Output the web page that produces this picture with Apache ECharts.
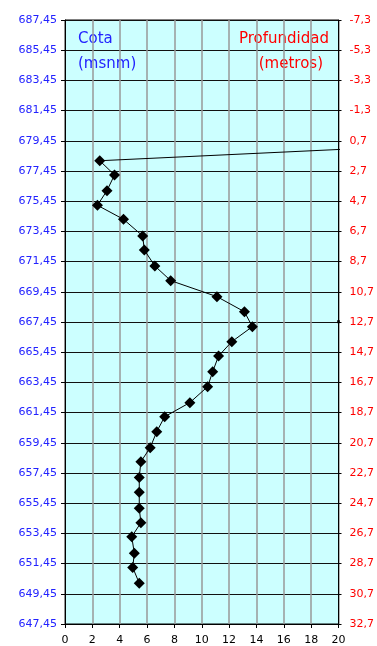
<!DOCTYPE html>
<html>
<head>
<meta charset="utf-8">
<script src="https://cdn.jsdelivr.net/npm/echarts@6/dist/echarts.min.js"></script>
<style>html,body{margin:0;padding:0;background:#fff;}#c{width:377px;height:646px;}</style>
</head>
<body>
<div id="c"></div>
<script>
// Data
var xTicks = [0, 2, 4, 6, 8, 10, 12, 14, 16, 18, 20];
var cotaMin = 647.45, cotaMax = 687.45;          // left axis (msnm)
var depthAtMin = 32.7;                            // right axis value at cotaMin (metros)
var profX = [2.54, 3.62, 3.07, 2.37, 4.28, 5.68, 5.80, 6.57, 7.73, 11.11, 13.12, 13.70, 12.20, 11.23, 10.80,
             10.43, 9.13, 7.29, 6.71, 6.23, 5.55, 5.43, 5.43, 5.43, 5.55, 4.88, 5.07, 4.95, 5.43];
var cota  = [678.13, 677.19, 676.15, 675.18, 674.25, 673.15, 672.22, 671.16, 670.19, 669.13, 668.13, 667.14,
             666.15, 665.20, 664.16, 663.17, 662.11, 661.18, 660.19, 659.13, 658.20, 657.16, 656.17, 655.11,
             654.16, 653.23, 652.13, 651.20, 650.15];
var strayX = [2.54, 20.6];
var strayCota = [678.13, 678.9];
var dotX = [20];
var dotCota = [667.47];

function toOff(v) { return v - cotaMin; }
function pairs(xs, ys) { return xs.map(function (x, i) { return [x, toOff(ys[i])]; }); }

var chart = echarts.init(document.getElementById('c'), null, {renderer: 'canvas'});
var fontFam = 'DejaVu Sans';
chart.setOption({
  animation: false,
  backgroundColor: '#ffffff',
  grid: {left: 65, right: 36, top: 20, bottom: 22, show: true, backgroundColor: '#ccffff', borderColor: '#000', borderWidth: 1},
  xAxis: {
    type: 'value', min: xTicks[0], max: xTicks[xTicks.length - 1], interval: 2,
    axisLine: {show: true, lineStyle: {color: '#000', width: 1}},
    axisTick: {show: true, length: 4, lineStyle: {color: '#000'}},
    axisLabel: {color: '#000', fontSize: 11, fontFamily: fontFam, margin: 11},
    splitLine: {show: true, lineStyle: {color: '#999', width: 1.5}}
  },
  yAxis: [{
    type: 'value', min: 0, max: cotaMax - cotaMin, interval: 2, position: 'left',
    axisLine: {show: true, lineStyle: {color: '#000', width: 1}},
    axisTick: {show: true, length: 4, lineStyle: {color: '#000'}},
    axisLabel: {color: '#2222ff', fontSize: 11, fontFamily: fontFam, margin: 8,
      formatter: function (v) { return (cotaMin + v).toFixed(2).replace('.', ','); }},
    splitLine: {show: true, lineStyle: {color: '#111', width: 1}}
  }, {
    type: 'value', min: 0, max: cotaMax - cotaMin, interval: 2, position: 'right',
    axisLine: {show: true, lineStyle: {color: '#000', width: 1}},
    axisTick: {show: true, length: 3, lineStyle: {color: '#000'}},
    axisLabel: {color: '#ff0000', fontSize: 11, fontFamily: fontFam, margin: 11,
      formatter: function (v) { return (depthAtMin - v).toFixed(1).replace('.', ','); }},
    splitLine: {show: false}
  }],
  graphic: [
    {type: 'text', left: 78, top: 32, style: {text: 'Cota', fill: '#2222ff', fontSize: 15, fontFamily: fontFam}},
    {type: 'text', left: 78, top: 57, style: {text: '(msnm)', fill: '#2222ff', fontSize: 15, fontFamily: fontFam}},
    {type: 'text', right: 48, top: 32, style: {text: 'Profundidad', fill: '#ff0000', fontSize: 15, fontFamily: fontFam}},
    {type: 'text', right: 54, top: 57, style: {text: '(metros)', fill: '#ff0000', fontSize: 15, fontFamily: fontFam}}
  ],
  series: [{
    type: 'line', data: pairs(strayX, strayCota), clip: false, symbol: 'none',
    lineStyle: {color: '#000', width: 1}, z: 3
  }, {
    type: 'line', data: pairs(profX, cota), symbol: 'diamond', symbolSize: 11,
    itemStyle: {color: '#000'}, lineStyle: {color: '#000', width: 1}, z: 4
  }, {
    type: 'scatter', data: pairs(dotX, dotCota), symbol: 'rect', symbolSize: 3, clip: false,
    itemStyle: {color: '#000'}, z: 4
  }]
});
</script>
</body>
</html>
